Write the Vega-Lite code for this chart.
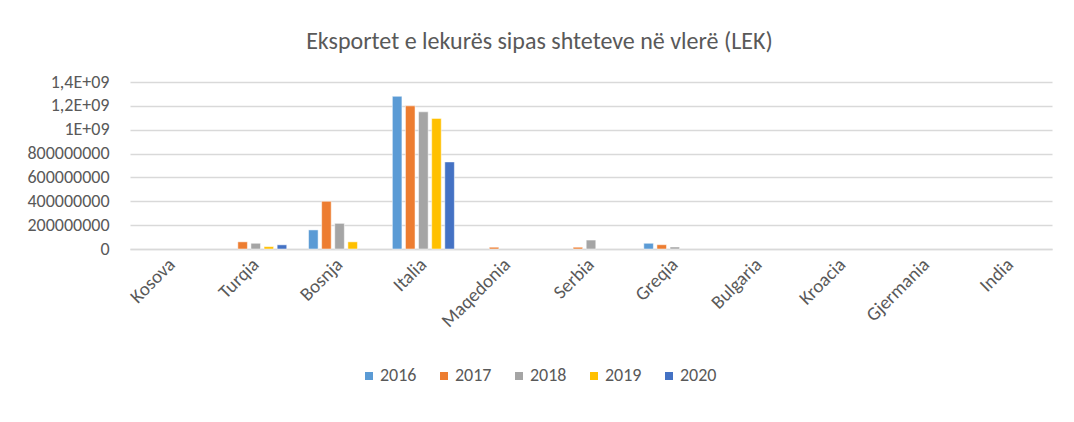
{
  "$schema": "https://vega.github.io/schema/vega-lite/v6.json",
  "width": 922,
  "height": 167,
  "autosize": {"type": "none"},
  "padding": {"left": 130, "top": 82, "right": 22, "bottom": 173},
  "background": "white",
  "title": {
    "text": "Eksportet e lekurës sipas shteteve në vlerë (LEK)",
    "font": "Carlito, Open Sans, sans-serif",
    "fontSize": 24,
    "fontWeight": "normal",
    "color": "#595959",
    "anchor": "middle",
    "frame": "bounds",
    "offset": 19
  },
  "data": {
    "values": [
      {"country": "Turqia", "year": "2017", "value": 60000000},
      {"country": "Turqia", "year": "2018", "value": 48000000},
      {"country": "Turqia", "year": "2019", "value": 20000000},
      {"country": "Turqia", "year": "2020", "value": 35000000},
      {"country": "Bosnja", "year": "2016", "value": 160000000},
      {"country": "Bosnja", "year": "2017", "value": 400000000},
      {"country": "Bosnja", "year": "2018", "value": 215000000},
      {"country": "Bosnja", "year": "2019", "value": 60000000},
      {"country": "Italia", "year": "2016", "value": 1280000000},
      {"country": "Italia", "year": "2017", "value": 1200000000},
      {"country": "Italia", "year": "2018", "value": 1150000000},
      {"country": "Italia", "year": "2019", "value": 1095000000},
      {"country": "Italia", "year": "2020", "value": 730000000},
      {"country": "Maqedonia", "year": "2017", "value": 15000000},
      {"country": "Serbia", "year": "2017", "value": 15000000},
      {"country": "Serbia", "year": "2018", "value": 75000000},
      {"country": "Greqia", "year": "2016", "value": 48000000},
      {"country": "Greqia", "year": "2017", "value": 36000000},
      {"country": "Greqia", "year": "2018", "value": 17000000}
    ]
  },
  "mark": {"type": "bar", "stroke": "white", "strokeWidth": 0.5},
  "encoding": {
    "x": {
      "field": "country",
      "type": "nominal",
      "sort": ["Kosova", "Turqia", "Bosnja", "Italia", "Maqedonia", "Serbia", "Greqia", "Bulgaria", "Kroacia", "Gjermania", "India"],
      "scale": {
        "domain": ["Kosova", "Turqia", "Bosnja", "Italia", "Maqedonia", "Serbia", "Greqia", "Bulgaria", "Kroacia", "Gjermania", "India"],
        "paddingInner": 0.26,
        "paddingOuter": 0.13
      },
      "axis": {
        "title": null,
        "labelAngle": -45,
        "labelAlign": "right",
        "labelBaseline": "middle",
        "labelFont": "Carlito, Open Sans, sans-serif",
        "labelFontSize": 19,
        "labelColor": "#595959",
        "labelPadding": 12,
        "ticks": false,
        "domainColor": "#D9D9D9",
        "domainWidth": 1.5
      }
    },
    "xOffset": {
      "field": "year",
      "type": "nominal",
      "scale": {"paddingInner": 0.27, "paddingOuter": 0}
    },
    "y": {
      "field": "value",
      "type": "quantitative",
      "scale": {"domain": [0, 1400000000]},
      "axis": {
        "title": null,
        "values": [0, 200000000, 400000000, 600000000, 800000000, 1000000000, 1200000000, 1400000000],
        "labelExpr": "datum.value >= 1e9 ? (datum.value == 1e9 ? '1E+09' : replace(format(datum.value / 1e9, '.1f'), '.', ',') + 'E+09') : format(datum.value, 'd')",
        "labelFont": "Carlito, Open Sans, sans-serif",
        "labelFontSize": 18,
        "labelColor": "#595959",
        "labelPadding": 21,
        "ticks": false,
        "domain": false,
        "grid": true,
        "gridColor": "#D9D9D9",
        "gridWidth": 1.5
      }
    },
    "color": {
      "field": "year",
      "type": "nominal",
      "scale": {
        "domain": ["2016", "2017", "2018", "2019", "2020"],
        "range": ["#5B9BD5", "#ED7D31", "#A5A5A5", "#FFC000", "#4472C4"]
      },
      "legend": {
        "title": null,
        "orient": "none",
        "direction": "horizontal",
        "legendX": 230,
        "legendY": 285,
        "symbolType": "square",
        "symbolSize": 64,
        "symbolStrokeWidth": 0,
        "labelFont": "Carlito, Open Sans, sans-serif",
        "labelFontSize": 18,
        "labelColor": "#595959",
        "columnPadding": 18,
        "labelOffset": 2
      }
    }
  },
  "config": {
    "view": {"stroke": null}
  }
}
